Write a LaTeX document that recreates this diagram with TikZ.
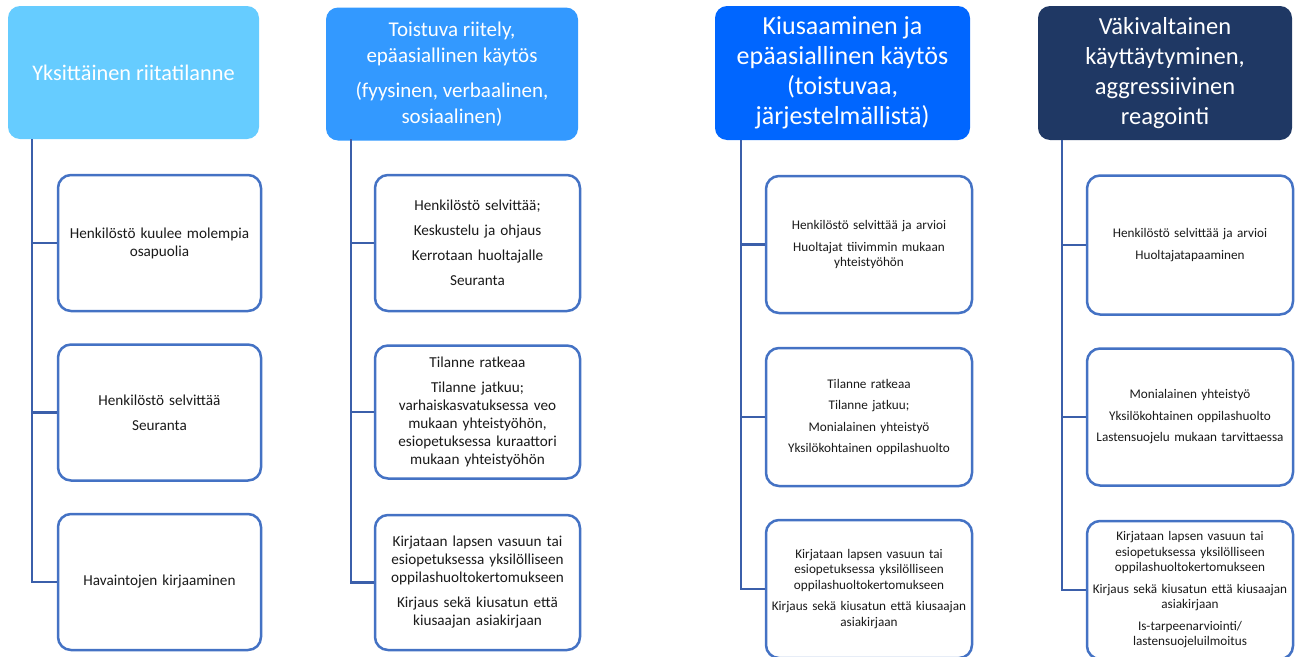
\documentclass[tikz,border=0pt]{standalone}
\usepackage{fontspec}
\setmainfont{Carlito}
\definecolor{cA}{HTML}{66CCFF}
\definecolor{cB}{HTML}{3399FF}
\definecolor{cC}{HTML}{0066FF}
\definecolor{cD}{HTML}{1F3864}
\definecolor{boxblue}{HTML}{4472C4}
\definecolor{trunkblue}{HTML}{3B5FAA}
\definecolor{txt}{HTML}{1A1A1A}
\tikzset{
  hdr/.style={rectangle, rounded corners=12pt, text=white, align=center, inner sep=0pt},
  kid/.style={rectangle, rounded corners=13pt, draw=boxblue, line width=2.5pt, fill=white,
    align=center, inner sep=0pt, text=txt, minimum width=205pt, text width=200pt, minimum height=136pt},
  kidS/.style={kid, font=\fontsize{15.2}{18}\selectfont},
  kidT/.style={kid, font=\fontsize{13.2}{15.5}\selectfont},
  trunk/.style={draw=trunkblue, line width=2.8pt}
}
\begin{document}
\begin{tikzpicture}[x=1pt,y=-1pt]
\useasboundingbox (0,0) rectangle (1297,656);
% headers
\node[hdr, font=\fontsize{22.3}{27}\selectfont, fill=cA, minimum width=251pt, minimum height=133pt] (h1) at (133.5,72.5) {Yksittäinen riitatilanne};
\node[hdr, font=\fontsize{21}{26}\selectfont, fill=cB, minimum width=252pt, minimum height=133pt] (h2) at (452,74)
  {Toistuva riitely,\\ epäasiallinen käytös\\[9pt] (fyysinen, verbaalinen,\\ sosiaalinen)};
\node[hdr, font=\fontsize{26}{30}\selectfont, fill=cC, minimum width=255pt, minimum height=134pt] (h3) at (842.5,73)
  {Kiusaaminen ja\\ epäasiallinen käytös\\ (toistuvaa,\\ järjestelmällistä)};
\node[hdr, font=\fontsize{24.5}{30}\selectfont, fill=cD, minimum width=254pt, minimum height=134pt] (h4) at (1165,73)
  {Väkivaltainen\\ käyttäytyminen,\\ aggressiivinen\\ reagointi};
% trunk start points
\coordinate (t1) at (32,139);
\coordinate (t2) at (351,139);
\coordinate (t3) at (741,140);
\coordinate (t4) at (1062,140);
% column 1
\node[kidS, minimum width=203pt] (c11) at (159.5,243) {Henkilöstö kuulee molempia\\ osapuolia};
\node[kidS, minimum width=203pt] (c12) at (159.5,412.5) {Henkilöstö selvittää\\[7pt] Seuranta};
\node[kidS, minimum width=203pt] (c13) at (159.5,582) {Havaintojen kirjaaminen};
% column 2
\node[kidS] (c21) at (477.5,243) {Henkilöstö selvittää;\\[7pt] Keskustelu ja ohjaus\\[7pt] Kerrotaan huoltajalle\\[7pt] Seuranta};
\node[kidS, minimum height=133pt] (c22) at (477.5,412)
  {Tilanne ratkeaa\\[7pt] Tilanne jatkuu;\\ varhaiskasvatuksessa veo\\ mukaan yhteistyöhön,\\ esiopetuksessa kuraattori\\ mukaan yhteistyöhön};
\node[kidS, minimum height=135pt] (c23) at (477.5,582.5)
  {Kirjataan lapsen vasuun tai\\ esiopetuksessa yksilölliseen\\ oppilashuoltokertomukseen\\[7pt] Kirjaus sekä kiusatun että\\ kiusaajan asiakirjaan};
% column 3
\node[kidT, minimum width=206pt, minimum height=137pt] (c31) at (869,244.5)
  {Henkilöstö selvittää ja arvioi\\[6pt] Huoltajat tiivimmin mukaan\\ yhteistyöhön};
\node[kidT, minimum width=206pt, minimum height=138pt] (c32) at (869,417)
  {Tilanne ratkeaa\\[6pt] Tilanne jatkuu;\\[6pt] Monialainen yhteistyö\\[6pt] Yksilökohtainen oppilashuolto};
\node[kidT, minimum width=206pt, minimum height=138pt] (c33) at (869,589)
  {Kirjataan lapsen vasuun tai\\ esiopetuksessa yksilölliseen\\ oppilashuoltokertomukseen\\[6pt] Kirjaus sekä kiusatun että kiusaajan\\ asiakirjaan};
% column 4
\node[kidT, minimum width=206pt, minimum height=139pt] (c41) at (1190,245)
  {Henkilöstö selvittää ja arvioi\\[6pt] Huoltajatapaaminen};
\node[kidT, minimum width=206pt, minimum height=137pt] (c42) at (1190,417)
  {Monialainen yhteistyö\\[6pt] Yksilökohtainen oppilashuolto\\[6pt] Lastensuojelu mukaan tarvittaessa};
\node[kidT, minimum width=206pt, minimum height=138pt] (c43) at (1190,590)
  {Kirjataan lapsen vasuun tai\\ esiopetuksessa yksilölliseen\\ oppilashuoltokertomukseen\\[6pt] Kirjaus sekä kiusatun että kiusaajan\\ asiakirjaan\\[6pt] Is-tarpeenarviointi/\\ lastensuojeluilmoitus};
% connectors
\foreach \t/\a/\b/\c in {t1/c11/c12/c13, t2/c21/c22/c23, t3/c31/c32/c33, t4/c41/c42/c43}{
  \draw[trunk] (\t) |- (\c.west);
  \draw[trunk] (\t) |- (\a.west);
  \draw[trunk] (\t) |- (\b.west);
}
\end{tikzpicture}
\end{document}
